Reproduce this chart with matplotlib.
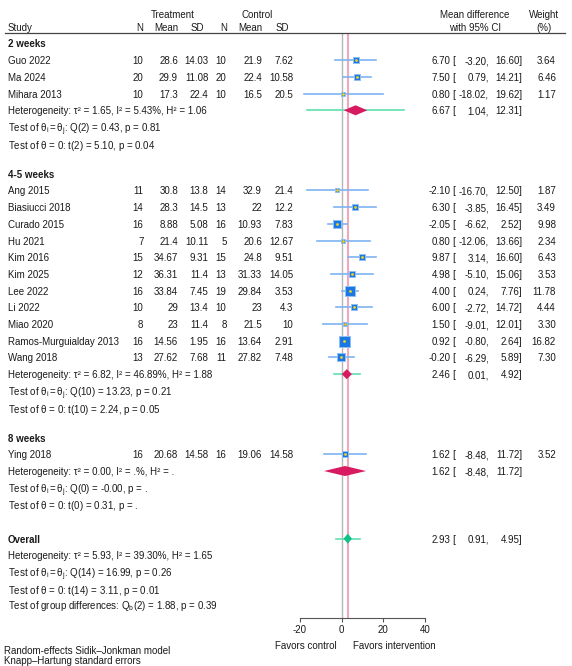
import numpy as np
import matplotlib
matplotlib.use("Agg")
import matplotlib.pyplot as plt
import matplotlib.transforms as mtransforms

plt.rcParams['font.family'] = ['Liberation Sans', 'DejaVu Sans']
plt.rcParams['mathtext.fontset'] = 'custom'
plt.rcParams['mathtext.rm'] = 'Liberation Sans'
plt.rcParams['mathtext.it'] = 'Liberation Sans:italic'
plt.rcParams['axes.unicode_minus'] = False

# ---- data ----
group_names = ["2 weeks", "4-5 weeks", "8 weeks"]
group_sizes = [3, 11, 1]

studies = ["Guo 2022", "Ma 2024", "Mihara 2013",
           "Ang 2015", "Biasiucci 2018", "Curado 2015", "Hu 2021", "Kim 2016",
           "Kim 2025", "Lee 2022", "Li 2022", "Miao 2020",
           "Ramos-Murguialday 2013", "Wang 2018",
           "Ying 2018"]
n_t = [10, 20, 10, 11, 14, 16, 7, 15, 12, 16, 10, 8, 16, 13, 16]
mean_t = [28.6, 29.9, 17.3, 30.8, 28.3, 8.88, 21.4, 34.67, 36.31, 33.84, 29, 23, 14.56, 27.62, 20.68]
sd_t = [14.03, 11.08, 22.4, 13.8, 14.5, 5.08, 10.11, 9.31, 11.4, 7.45, 13.4, 11.4, 1.95, 7.68, 14.58]
n_c = [10, 20, 10, 14, 13, 16, 5, 15, 13, 19, 10, 8, 16, 11, 16]
mean_c = [21.9, 22.4, 16.5, 32.9, 22, 10.93, 20.6, 24.8, 31.33, 29.84, 23, 21.5, 13.64, 27.82, 19.06]
sd_c = [7.62, 10.58, 20.5, 21.4, 12.2, 7.83, 12.67, 9.51, 14.05, 3.53, 4.3, 10, 2.91, 7.48, 14.58]
md = [6.70, 7.50, 0.80, -2.10, 6.30, -2.05, 0.80, 9.87, 4.98, 4.00, 6.00, 1.50, 0.92, -0.20, 1.62]
ci_lo = [-3.20, 0.79, -18.02, -16.70, -3.85, -6.62, -12.06, 3.14, -5.10, 0.24, -2.72, -9.01, -0.80, -6.29, -8.48]
ci_hi = [16.60, 14.21, 19.62, 12.50, 16.45, 2.52, 13.66, 16.60, 15.06, 7.76, 14.72, 12.01, 2.64, 5.89, 11.72]
weight = [3.64, 6.46, 1.17, 1.87, 3.49, 9.98, 2.34, 6.43, 3.53, 11.78, 4.44, 3.30, 16.82, 7.30, 3.52]

grp_md = [6.67, 2.46, 1.62]
grp_lo = [1.04, 0.01, -8.48]
grp_hi = [12.31, 4.92, 11.72]
grp_pi_lo = [-16.6, -3.9, None]
grp_pi_hi = [30.0, 8.9, None]
grp_het = ["Heterogeneity: τ² = 1.65, I² = 5.43%, H² = 1.06",
           "Heterogeneity: τ² = 6.82, I² = 46.89%, H² = 1.88",
           "Heterogeneity: τ² = 0.00, I² = .%, H² = ."]
grp_q = ["Q(2) = 0.43, p = 0.81", "Q(10) = 13.23, p = 0.21", "Q(0) = -0.00, p = ."]
grp_t = ["t(2) = 5.10, p = 0.04", "t(10) = 2.24, p = 0.05", "t(0) = 0.31, p = ."]

overall_md, overall_lo, overall_hi = 2.93, 0.91, 4.95
overall_pi = (-2.7, 8.6)
overall_het = "Heterogeneity: τ² = 5.93, I² = 39.30%, H² = 1.65"
overall_q = "Q(14) = 16.99, p = 0.26"
overall_t = "t(14) = 3.11, p = 0.01"
group_diff = "Q$_\\mathregular{b}$(2) = 1.88, p = 0.39"

xticks = [-20, 0, 20, 40]

# ---- layout ----
W, H = 572, 666
fig = plt.figure(figsize=(W / 100, H / 100), dpi=100)
ROW = 16.7
Y0 = 43.5          # pixel centre of first row
top_px, bot_px = 33, 618
ax = fig.add_axes([300 / W, 1 - bot_px / H, 125 / W, (bot_px - top_px) / H])
ax.set_xlim(-20, 40)
ax.set_ylim((bot_px - Y0) / ROW, (top_px - Y0) / ROW)
for s in ["top", "left", "right"]:
    ax.spines[s].set_visible(False)
ax.spines["bottom"].set_color("#555555")
ax.spines["bottom"].set_linewidth(0.8)
ax.set_xticks(xticks)
ax.tick_params(axis="x", length=3, width=0.8, color="#555555", labelsize=7, pad=2,
               labelcolor="#1a1a1a")
ax.set_yticks([])
ax.patch.set_alpha(0)

tr = mtransforms.blended_transform_factory(fig.transFigure, ax.transData)
FS = 7
TC = "#1a1a1a"


def txt(px, y, s, ha="left", bold=False, fs=FS):
    ax.text(px / W, y, s, transform=tr, ha=ha, va="center_baseline", fontsize=fs,
            color=TC, fontweight="bold" if bold else "normal", clip_on=False)


def ci_text(y, est, lo, hi, w=None):
    txt(450.5, y, f"{est:.2f}", ha="right")
    txt(452.5, y, "[")
    txt(489, y, f"{lo:.2f},", ha="right")
    txt(522.5, y, f"{hi:.2f}]", ha="right")
    if w is not None:
        txt(556, y, f"{w:.2f}", ha="right")


def diamond(y, est, lo, hi, color, h=0.3):
    ax.fill([lo, est, hi, est], [y, y - h, y, y + h], color=color, lw=0,
            zorder=5, clip_on=False)


# header
def ftxt(px, py, s, ha="center"):
    fig.text(px / W, 1 - py / H, s, ha=ha, va="center_baseline", fontsize=FS, color=TC)


ftxt(173, 14, "Treatment")
ftxt(257, 14, "Control")
ftxt(8, 27, "Study", ha="left")
for px, lab in [(143.5, "N"), (178, "Mean"), (204, "SD"), (227, "N"), (262, "Mean"), (289, "SD")]:
    ftxt(px, 27, lab, ha="right")
ftxt(475, 14, "Mean difference")
ftxt(475, 27, "with 95% CI")
ftxt(544, 14, "Weight")
ftxt(544, 27, "(%)")
fig.add_artist(plt.Line2D([5 / W, 565 / W], [1 - 33 / H] * 2, color="#444444", lw=0.9))

# reference lines
ax.axvline(0, color="#b5b5b5", lw=1.0, zorder=1)
ax.axvline(overall_md, color="#f2a7bb", lw=1.5, zorder=1, ymax=0.997)

col_px = [143.5, 178, 208.5, 226.5, 262, 293.5]
wmax = max(weight)
y = 0.0
i = 0
for g, gname in enumerate(group_names):
    if g > 0:
        y += 1.8
    txt(8, y, gname, bold=True)
    for k in range(group_sizes[g]):
        y += 1
        txt(8, y, studies[i])
        vals = [n_t[i], mean_t[i], sd_t[i], n_c[i], mean_c[i], sd_c[i]]
        for px, v in zip(col_px, vals):
            txt(px, y, f"{v:g}", ha="right")
        ax.plot([ci_lo[i], ci_hi[i]], [y, y], color="#7db3f2", lw=1.2, zorder=2, clip_on=False)
        side = max(3.6, 11.0 * np.sqrt(weight[i] / wmax)) * 0.72
        ax.scatter([md[i]], [y], marker="s", s=side ** 2, color="#1a78e6",
                   edgecolors="#8fc0f5", linewidths=0.7, zorder=3, clip_on=False)
        ax.scatter([md[i]], [y], marker="o", s=4, color="#f3d21a", lw=0, zorder=4, clip_on=False)
        ci_text(y, md[i], ci_lo[i], ci_hi[i], weight[i])
        i += 1
    y += 1
    txt(8, y, grp_het[g])
    if grp_pi_lo[g] is not None:
        ax.plot([grp_pi_lo[g], grp_pi_hi[g]], [y, y], color="#5ee0ae", lw=1.2, zorder=2, clip_on=False)
    diamond(y, grp_md[g], grp_lo[g], grp_hi[g], "#d81b60")
    ci_text(y, grp_md[g], grp_lo[g], grp_hi[g])
    y += 1
    txt(8, y, "Test of $\\mathregular{\\theta_i = \\theta_j}$: " + grp_q[g])
    y += 1
    txt(8, y, "Test of $\\mathregular{\\theta}$ = 0: " + grp_t[g])

y += 2.05
txt(8, y, "Overall", bold=True)
ax.plot(list(overall_pi), [y, y], color="#5ee0ae", lw=1.2, zorder=2, clip_on=False)
diamond(y, overall_md, overall_lo, overall_hi, "#12c08a")
ci_text(y, overall_md, overall_lo, overall_hi)
y += 1
txt(8, y, overall_het)
y += 1
txt(8, y, "Test of $\\mathregular{\\theta_i = \\theta_j}$: " + overall_q)
y += 1
txt(8, y, "Test of $\\mathregular{\\theta}$ = 0: " + overall_t)
y += 0.92
txt(8, y, "Test of group differences: " + group_diff)

# axis captions and footnote
ftxt(306, 645, "Favors control")
ftxt(394, 645, "Favors intervention")
ftxt(4, 650, "Random-effects Sidik\u2013Jonkman model", ha="left")
ftxt(4, 660, "Knapp\u2013Hartung standard errors", ha="left")

fig.savefig("out.png", dpi=100)
